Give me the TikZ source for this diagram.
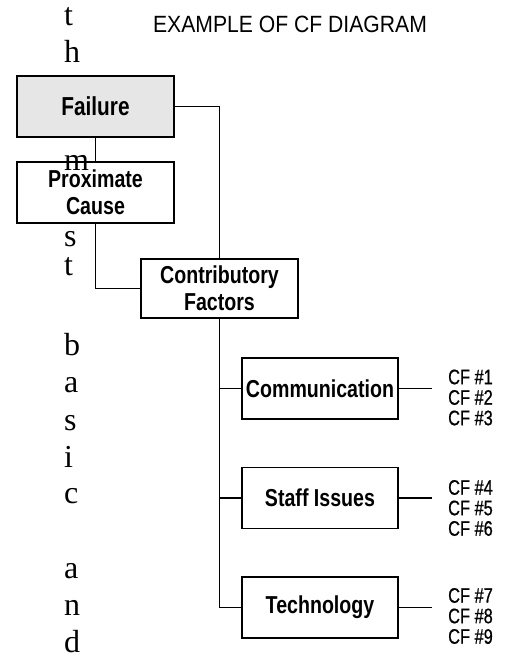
\documentclass[tikz,border=0pt]{standalone}
\usepackage{fontspec}
\setmainfont{Liberation Serif}
\newfontfamily\labelfont[FakeStretch=0.8]{Liberation Sans}
\newfontfamily\listfont[FakeStretch=0.78,FakeBold=0.7]{Liberation Sans}
\newfontfamily\titlefont[FakeStretch=0.9]{Liberation Sans}
\definecolor{failgray}{HTML}{E6E6E6}
\begin{document}
\begin{tikzpicture}[x=1pt,y=-1pt,
  box/.style={draw,line width=1.3pt,minimum width=157pt,minimum height=61pt,
    inner sep=0pt,align=center,
    font=\labelfont\bfseries\fontsize{24.5}{27}\selectfont},
  link/.style={line width=1.3pt},
  cflist/.style={anchor=west,align=left,inner sep=0pt,
    font=\listfont\fontsize{21}{20.5}\selectfont},
  letter/.style={anchor=base west,inner sep=0pt,font=\fontsize{32}{32}\selectfont}]
\useasboundingbox (0,0) rectangle (509,661);

% title
\node[anchor=base,inner sep=0pt,font=\titlefont\fontsize{23.5}{23.5}\selectfont]
  (title) at (290,33) {EXAMPLE OF CF DIAGRAM};

% main chain
\node[box,fill=failgray] (fail) at (95.5,106.5) {\fontsize{26}{27}\selectfont Failure};
\node[box,fill=white] (prox) at (95.5,192.5) {Proximate\\Cause};
\node[box,minimum height=59pt] (contrib) at (219.5,288.5) {Contributory\\Factors};

% factor categories
\node[box,minimum width=156pt] (comm) at (320,388.5) {Communication};
\node[box,minimum width=156pt] (staff) at (320,498) {Staff Issues};
\node[box,minimum width=156pt] (tech) at (320,607.5) {Technology};

% contributory factor lists
\node[cflist] (cfa) at (448,397.5) {CF \#1\\CF \#2\\CF \#3};
\node[cflist] (cfb) at (448,508) {CF \#4\\CF \#5\\CF \#6};
\node[cflist] (cfc) at (448,616) {CF \#7\\CF \#8\\CF \#9};

% connectors
\draw[link] (fail.south) -- (prox.north);
\draw[link] (fail.east) -| (contrib.north);
\draw[link] (prox.south) |- (contrib.west);
\draw[link] (contrib.south) |- (tech.west);
\draw[link] (contrib.south |- comm.west) -- (comm.west);
\draw[link] (contrib.south |- staff.west) -- (staff.west);
\draw[link,shorten >=16pt] (comm.east) -- (comm.east -| cfa.west);
\draw[link,shorten >=16pt] (staff.east) -- (staff.east -| cfb.west);
\draw[link,shorten >=16pt] (tech.east) -- (tech.east -| cfc.west);

% vertical running text
\foreach \ch/\yy [count=\i] in {t/26,h/63,m/170,s/246,t/275,b/355,a/392,s/430,i/467,c/503,a/578,n/615,d/652}
  \node[letter] (v\i) at (64,\yy) {\ch};
\end{tikzpicture}
\end{document}
